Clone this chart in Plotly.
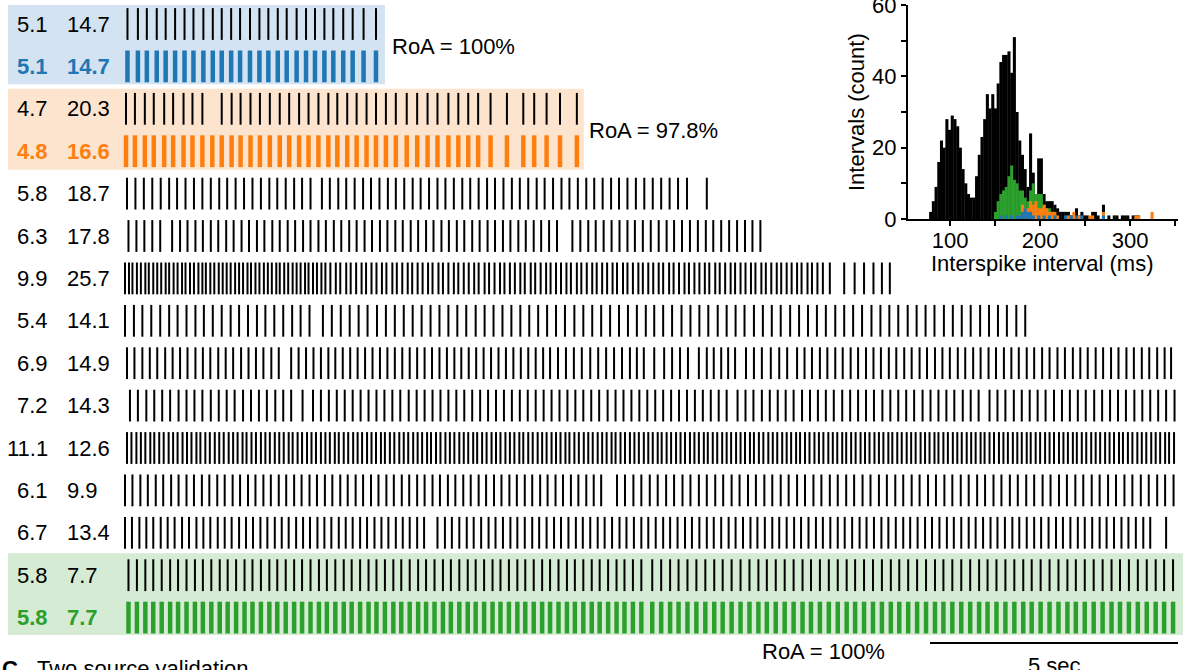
import plotly.graph_objects as go

# ---------------- data ----------------
rate_labels = ["5.1", "5.1", "4.7", "4.8", "5.8", "6.3", "9.9", "5.4", "6.9", "7.2",
               "11.1", "6.1", "6.7", "5.8", "5.8"]
cv_labels = ["14.7", "14.7", "20.3", "16.6", "18.7", "17.8", "25.7", "14.1", "14.9", "14.3",
             "12.6", "9.9", "13.4", "7.7", "7.7"]

# spike times (s)
train_01 = [0.05, 0.26, 0.44, 0.64, 0.82, 1.01, 1.20, 1.38, 1.58, 1.77, 1.95, 2.14, 2.32, 2.52,
            2.71, 2.89, 3.08, 3.26, 3.46, 3.65, 3.83, 4.02, 4.20, 4.40, 4.59, 4.81, 5.06]
train_02 = [0.05, 0.26, 0.44, 0.64, 0.82, 1.01, 1.20, 1.38, 1.58, 1.77, 1.95, 2.14, 2.32, 2.52,
            2.71, 2.89, 3.08, 3.26, 3.46, 3.65, 3.83, 4.02, 4.20, 4.40, 4.59, 4.81, 5.06]
train_03 = [0.02, 0.20, 0.40, 0.58, 0.79, 0.97, 1.18, 1.36, 1.56, 1.95, 2.15, 2.33, 2.53, 2.72,
            2.92, 3.12, 3.31, 3.51, 3.70, 3.90, 4.10, 4.28, 4.48, 4.67, 4.87, 5.06, 5.26, 5.46,
            5.68, 5.89, 6.10, 6.30, 6.52, 6.72, 6.92, 7.12, 7.37, 7.70, 8.03, 8.25, 8.50, 8.77, 9.11]
train_04 = [0.02, 0.20, 0.40, 0.58, 0.79, 0.97, 1.18, 1.36, 1.56, 1.76, 1.95, 2.15, 2.33, 2.53,
            2.72, 2.92, 3.12, 3.31, 3.51, 3.70, 3.90, 4.10, 4.28, 4.48, 4.67, 4.87, 5.06, 5.26,
            5.46, 5.68, 5.89, 6.10, 6.30, 6.52, 6.72, 6.92, 7.12, 7.37, 7.70, 8.03, 8.25, 8.50,
            8.77, 9.11]
train_05 = [0.04, 0.21, 0.38, 0.55, 0.72, 0.89, 1.05, 1.22, 1.39, 1.56, 1.73, 1.90, 2.06, 2.23,
            2.40, 2.57, 2.74, 2.91, 3.07, 3.24, 3.41, 3.57, 3.74, 3.97, 4.13, 4.30, 4.46, 4.63,
            4.80, 4.96, 5.13, 5.30, 5.46, 5.63, 5.80, 5.96, 6.13, 6.30, 6.46, 6.63, 6.80, 6.96,
            7.13, 7.30, 7.46, 7.63, 7.80, 7.96, 8.13, 8.30, 8.46, 8.63, 8.80, 8.96, 9.13, 9.30,
            9.46, 9.63, 9.80, 9.96, 10.13, 10.30, 10.47, 10.64, 10.81, 10.98, 11.15, 11.33, 11.73]
train_06 = [0.07, 0.23, 0.39, 0.55, 0.71,
            0.95, 1.11, 1.26, 1.42, 1.57, 1.73, 1.88, 2.04, 2.19, 2.35, 2.50, 2.66, 2.81, 2.97,
            3.12, 3.28, 3.43, 3.59, 3.74, 3.90, 4.05, 4.21, 4.36, 4.52, 4.67, 4.83, 4.98, 5.14,
            5.29, 5.45, 5.60, 5.76, 5.91, 6.07, 6.22, 6.38, 6.53, 6.69, 6.84, 7.00, 7.15, 7.31,
            7.46, 7.62, 7.77, 7.93, 8.08, 8.24, 8.39, 8.55, 8.71,
            9.02, 9.18, 9.34, 9.49, 9.65, 9.81, 9.97, 10.13, 10.28, 10.44, 10.60, 10.76, 10.92,
            11.07, 11.23, 11.39, 11.55, 11.71, 11.86, 12.02, 12.18, 12.34, 12.50, 12.65, 12.81]
train_07 = [0.00, 0.08, 0.15, 0.24, 0.32, 0.41, 0.48, 0.57, 0.65, 0.73, 0.82, 0.89, 0.98, 1.06,
            1.15, 1.22, 1.31, 1.39, 1.48, 1.56, 1.63, 1.72, 1.80, 1.89, 1.97, 2.05, 2.13, 2.22,
            2.30, 2.38, 2.47, 2.54, 2.63, 2.71, 2.80, 2.88, 2.96, 3.05, 3.12, 3.21, 3.29, 3.38,
            3.46, 3.54, 3.63, 3.70, 3.79, 3.87, 3.96, 4.04,
            4.14, 4.25, 4.34, 4.46, 4.55, 4.66, 4.77, 4.86, 4.97, 5.07, 5.18, 5.27, 5.39, 5.48,
            5.59, 5.70, 5.79, 5.90, 6.00, 6.11, 6.20, 6.32, 6.41, 6.52, 6.63, 6.72, 6.83, 6.93,
            7.04, 7.13, 7.25, 7.34, 7.45, 7.56, 7.65, 7.76, 7.86, 7.97, 8.06, 8.18, 8.27, 8.38,
            8.49, 8.58, 8.69, 8.79, 8.90, 8.99, 9.11, 9.20, 9.31, 9.42, 9.51, 9.62, 9.72, 9.83,
            9.92, 10.04, 10.13, 10.24, 10.35, 10.44, 10.55, 10.65, 10.76, 10.85, 10.97, 11.06,
            11.17, 11.28, 11.37, 11.48, 11.58, 11.69, 11.78, 11.90, 11.99, 12.10, 12.21, 12.30,
            12.41, 12.51, 12.62, 12.71, 12.83, 12.92, 13.03, 13.14, 13.23, 13.34, 13.44, 13.55,
            13.64, 13.76, 13.85, 13.96, 14.07, 14.21,
            14.50, 14.71, 14.90, 15.09, 15.26, 15.42]
train_08 = [0.00, 0.18, 0.35, 0.53, 0.71, 0.89, 1.06, 1.24, 1.42, 1.59, 1.77, 1.95, 2.13, 2.30,
            2.48, 2.66, 2.83, 3.01, 3.19, 3.37, 3.54, 3.72,
            3.99, 4.17, 4.35, 4.53, 4.71, 4.89, 5.08, 5.26, 5.44, 5.62, 5.80, 5.98, 6.16, 6.34,
            6.52, 6.70, 6.88, 7.07, 7.25, 7.43, 7.61, 7.79, 7.97, 8.15, 8.33, 8.51, 8.69, 8.87,
            9.06, 9.24, 9.42, 9.60, 9.78, 9.96, 10.14, 10.32, 10.50,
            10.67, 10.85, 11.03, 11.22, 11.40, 11.58, 11.76, 11.95, 12.13, 12.31, 12.49, 12.68,
            12.86, 13.04, 13.22, 13.41, 13.59, 13.77, 13.95, 14.13, 14.32, 14.50, 14.68, 14.86,
            15.05, 15.23, 15.41, 15.59, 15.78, 15.96, 16.14, 16.32, 16.51, 16.69, 16.87, 17.05,
            17.24, 17.42, 17.60, 17.78, 17.97, 18.15]
train_09 = [0.04, 0.19, 0.35, 0.50, 0.65, 0.81, 0.96, 1.11, 1.26, 1.42, 1.57, 1.72, 1.88, 2.03,
            2.18, 2.34, 2.49, 2.64, 2.79, 2.95, 3.10,
            3.35, 3.50, 3.65, 3.80, 3.95, 4.10, 4.24, 4.39, 4.54, 4.69, 4.84, 4.99, 5.14, 5.29,
            5.44, 5.59, 5.74, 5.89, 6.04, 6.19, 6.34, 6.49, 6.64, 6.78, 6.93, 7.08, 7.23, 7.38,
            7.53, 7.68, 7.83, 7.98, 8.13, 8.28, 8.43,
            8.57, 8.73, 8.89, 9.05, 9.21, 9.38, 9.54, 9.70, 9.86, 10.02, 10.18, 10.32, 10.46,
            10.67, 10.87, 11.03, 11.19, 11.35, 11.57, 11.73, 11.87, 12.02, 12.16, 12.30,
            12.52, 12.68, 12.84, 13.02, 13.19, 13.35, 13.55,
            13.70, 13.85, 14.01, 14.16, 14.32, 14.47, 14.63, 14.78, 14.94, 15.09, 15.24, 15.40,
            15.55, 15.71, 15.86, 16.02, 16.17, 16.33, 16.48, 16.63, 16.79, 16.94, 17.10, 17.25,
            17.41, 17.56, 17.72, 17.87, 18.02, 18.18, 18.33, 18.49, 18.64, 18.80, 18.95, 19.11,
            19.26, 19.41, 19.57, 19.72, 19.88, 20.03, 20.19, 20.34, 20.50, 20.65, 20.81, 20.96,
            21.09]
train_10 = [0.10, 0.26, 0.43, 0.59, 0.75, 0.91, 1.08, 1.24, 1.40, 1.56, 1.73, 1.89, 2.05, 2.21,
            2.38, 2.54, 2.70, 2.86, 3.03, 3.19, 3.35,
            3.58,
            3.79, 3.95, 4.11, 4.27, 4.43, 4.59, 4.75, 4.91, 5.07, 5.23, 5.39, 5.55, 5.72, 5.88,
            6.04, 6.20, 6.36, 6.52, 6.68, 6.84, 7.00, 7.16, 7.32, 7.48, 7.64, 7.80, 7.96, 8.12,
            8.28, 8.44, 8.60, 8.76, 8.92, 9.08, 9.24, 9.40, 9.56, 9.73, 9.89, 10.05, 10.21,
            10.37, 10.53, 10.69, 10.85, 11.01, 11.17, 11.33, 11.49, 11.65, 11.81, 11.97, 12.13,
            12.35, 12.51, 12.67, 12.84, 13.00, 13.16, 13.32, 13.48, 13.65, 13.81, 13.97, 14.13,
            14.29, 14.46, 14.62, 14.78, 14.94, 15.10, 15.27, 15.43, 15.59, 15.75, 15.91, 16.08,
            16.24, 16.40, 16.56, 16.72, 16.89, 17.05, 17.21,
            17.43, 17.59, 17.75, 17.92, 18.08, 18.24, 18.40, 18.56, 18.73, 18.89, 19.05, 19.21,
            19.37, 19.54, 19.70, 19.86, 20.02, 20.18, 20.35, 20.51, 20.67, 20.83, 20.99, 21.16]
train_11 = [0.04, 0.13, 0.23, 0.32, 0.41, 0.51, 0.59, 0.69, 0.78, 0.88,
            0.97, 1.06, 1.16, 1.25, 1.34, 1.44, 1.52, 1.62, 1.71, 1.81,
            1.90, 1.99, 2.09, 2.18, 2.27, 2.37, 2.45, 2.55, 2.64, 2.74,
            2.83, 2.92, 3.02, 3.11, 3.20, 3.30, 3.38, 3.48, 3.57, 3.67,
            3.76, 3.85, 3.95, 4.04, 4.13, 4.23, 4.31, 4.41, 4.50, 4.60,
            4.69, 4.78, 4.88, 4.97, 5.06, 5.16, 5.24, 5.34, 5.43, 5.53,
            5.62, 5.71, 5.81, 5.90, 5.99, 6.09, 6.17, 6.27, 6.36, 6.46,
            6.55, 6.64, 6.74, 6.83, 6.92, 7.02, 7.10, 7.20, 7.29, 7.39,
            7.48, 7.57, 7.67, 7.76, 7.85, 7.95, 8.03, 8.13, 8.22, 8.32,
            8.41, 8.50, 8.60, 8.69, 8.78, 8.88, 8.96, 9.06, 9.15, 9.25,
            9.34, 9.43, 9.53, 9.62, 9.71, 9.81, 9.89, 9.99, 10.08, 10.18,
            10.27, 10.36, 10.46, 10.55, 10.64, 10.74, 10.82, 10.92, 11.01, 11.11,
            11.20, 11.29, 11.39, 11.48, 11.57, 11.67, 11.75, 11.85, 11.94, 12.04,
            12.13, 12.22, 12.32, 12.41, 12.50, 12.60, 12.68, 12.78, 12.87, 12.97,
            13.06, 13.15, 13.25, 13.34, 13.43, 13.53, 13.61, 13.71, 13.80, 13.90,
            13.99, 14.08, 14.18, 14.27, 14.36, 14.46, 14.54, 14.64, 14.73, 14.83,
            14.92, 15.01, 15.11, 15.20, 15.29, 15.39, 15.47, 15.57, 15.66, 15.76,
            15.85, 15.94, 16.04, 16.13, 16.22, 16.32, 16.40, 16.50, 16.59, 16.69,
            16.78, 16.87, 16.97, 17.06, 17.15, 17.25, 17.33, 17.43, 17.52, 17.62,
            17.71, 17.80, 17.90, 17.99, 18.08, 18.18, 18.26, 18.36, 18.45, 18.55,
            18.64, 18.73, 18.83, 18.92, 19.01, 19.11, 19.19, 19.29, 19.38, 19.48,
            19.57, 19.66, 19.76, 19.85, 19.94, 20.04, 20.12, 20.22, 20.31, 20.41,
            20.50, 20.59, 20.69, 20.78, 20.87, 20.97, 21.05, 21.15]
train_12 = [0.00, 0.15, 0.31, 0.46, 0.62, 0.77, 0.93, 1.08, 1.24, 1.39, 1.55, 1.70, 1.86, 2.01,
            2.17, 2.32, 2.48, 2.63, 2.79, 2.94, 3.10, 3.25, 3.41, 3.56, 3.72, 3.87, 4.03, 4.18,
            4.34, 4.49, 4.65, 4.80, 4.96, 5.11, 5.27, 5.42, 5.58, 5.73, 5.89, 6.04, 6.20, 6.35,
            6.51, 6.66, 6.82, 6.97, 7.13, 7.28, 7.44, 7.59, 7.75, 7.90, 8.06, 8.21, 8.37, 8.52,
            8.68, 8.83, 8.99, 9.14, 9.30, 9.45, 9.60,
            9.92, 10.08, 10.25, 10.41, 10.58, 10.74, 10.91, 11.07, 11.24, 11.40, 11.57, 11.73,
            11.90, 12.06, 12.23, 12.39, 12.56, 12.72, 12.89, 13.05, 13.22, 13.38, 13.55, 13.71,
            13.88, 14.04, 14.21, 14.37, 14.54, 14.70, 14.87, 15.03, 15.20, 15.36, 15.53, 15.69,
            15.86, 16.02, 16.19, 16.35, 16.52, 16.68, 16.85, 17.01, 17.18, 17.34, 17.51, 17.67,
            17.84, 18.00, 18.17, 18.33, 18.50, 18.66, 18.83, 18.99, 19.16, 19.32, 19.49, 19.65,
            19.82, 19.98, 20.15, 20.31, 20.48, 20.64, 20.81, 20.97, 21.14]
train_13 = [0.00, 0.14, 0.29, 0.43, 0.57, 0.72, 0.86, 1.00, 1.15, 1.29, 1.44, 1.58, 1.72, 1.87,
            2.01, 2.15, 2.30, 2.44, 2.58, 2.73, 2.87, 3.02, 3.16, 3.30, 3.45, 3.59, 3.73, 3.88,
            4.02, 4.16, 4.31, 4.45, 4.59, 4.74, 4.88, 5.03, 5.17, 5.31, 5.46, 5.60, 5.74, 5.89,
            6.03,
            6.30, 6.45, 6.59, 6.74, 6.89, 7.03, 7.18, 7.33, 7.47, 7.62, 7.77, 7.91, 8.06, 8.21,
            8.35, 8.50, 8.65, 8.79, 8.94, 9.09, 9.23, 9.38, 9.53, 9.67, 9.82, 9.97, 10.11, 10.26,
            10.41, 10.55, 10.70, 10.85, 10.99, 11.14, 11.29, 11.43, 11.58, 11.73, 11.87, 12.02,
            12.17, 12.31, 12.46, 12.61, 12.75, 12.90, 13.05, 13.19, 13.34, 13.49, 13.63, 13.78,
            13.93, 14.07, 14.22, 14.37, 14.51, 14.66, 14.81, 14.95, 15.10, 15.25, 15.39, 15.54,
            15.69, 15.83, 15.98, 16.13, 16.27, 16.42, 16.57, 16.71, 16.86, 17.01, 17.15, 17.30,
            17.45, 17.59, 17.74, 17.89, 18.03, 18.18, 18.33, 18.47, 18.62, 18.77, 18.91, 19.06,
            19.21, 19.35, 19.50, 19.65, 19.79, 19.94, 20.09, 20.23, 20.38, 20.53, 20.67,
            20.99]
train_14 = [0.07, 0.24, 0.41, 0.57, 0.74, 0.91, 1.07, 1.24, 1.41, 1.57, 1.74, 1.91, 2.07, 2.24,
            2.41, 2.57, 2.74, 2.91, 3.07, 3.24, 3.41, 3.57, 3.74, 3.91, 4.07, 4.24, 4.41, 4.57,
            4.74, 4.91, 5.07, 5.24, 5.41, 5.57, 5.74, 5.91, 6.07, 6.24, 6.41, 6.57, 6.74, 6.91,
            7.07, 7.24, 7.41, 7.57, 7.74, 7.91, 8.07, 8.24, 8.41, 8.57, 8.74, 8.91, 9.07, 9.24,
            9.41, 9.57, 9.74, 9.91, 10.07, 10.24, 10.41,
            10.63, 10.81, 10.99, 11.16, 11.34, 11.52, 11.70, 11.88, 12.05, 12.23, 12.41, 12.59,
            12.77, 12.94, 13.12, 13.30, 13.48, 13.66, 13.83, 14.01, 14.19, 14.37, 14.55, 14.72,
            14.90, 15.08, 15.26, 15.44, 15.61, 15.79, 15.97, 16.15, 16.33, 16.50, 16.68, 16.86,
            17.04, 17.22, 17.39, 17.57, 17.75, 17.93, 18.11, 18.28, 18.46, 18.64, 18.82, 19.00,
            19.17, 19.35, 19.53, 19.71, 19.89, 20.06, 20.24, 20.42, 20.60, 20.78, 20.95, 21.13]
train_15 = list(train_14)

# ISI histogram (bin centres in ms, counts)
isi_all_ms = [78.5, 81.5, 84.5, 87.5, 90.5, 93.5, 96.5, 99.5, 102.5, 105.5, 108.5, 111.5, 114.5,
              117.5, 120.5, 123.5, 126.5, 129.5, 132.5, 135.5, 138.5, 141.5, 144.5, 147.5, 150.5,
              153.5, 156.5, 159.5, 162.5, 165.5, 168.5, 171.5, 174.5, 177.5, 180.5, 183.5, 186.5,
              189.5, 192.5, 195.5, 198.5, 201.5, 204.5, 207.5, 210.5, 213.5, 216.5, 219.5, 222.5,
              225.5, 228.5, 231.5, 234.5, 237.5, 240.5, 243.5, 246.5, 249.5, 252.5, 255.5, 258.5,
              261.5, 264.5, 267.5, 270.5, 273.5, 276.5, 279.5, 282.5, 285.5, 288.5, 291.5, 294.5,
              297.5, 300.5, 303.5, 306.5, 309.5]
isi_all_count = [2, 5, 9, 16, 22, 20, 28, 25, 29, 28, 26, 20, 14, 10, 7, 6, 6, 12, 18, 23, 28, 35,
                 31, 35, 31, 38, 44, 46, 46, 47, 41, 51, 30, 22, 18, 14, 9, 24, 13, 7, 17, 17, 7,
                 5, 5, 5, 4, 3, 2, 2, 2, 2, 1, 1, 3, 1, 2, 1, 1, 0, 2, 2, 1, 0, 4, 0, 1, 0, 1, 1,
                 0, 1, 1, 1, 0, 1, 1, 1]
isi_green_ms = [150.5, 153.5, 156.5, 159.5, 162.5, 165.5, 168.5, 171.5, 174.5, 177.5, 180.5,
                183.5, 186.5, 189.5, 192.5, 195.5, 198.5, 201.5, 204.5, 207.5, 210.5, 213.5, 216.5]
isi_green_count = [2, 5, 7, 8, 9, 12, 15, 11, 10, 8, 8, 6, 5, 8, 10, 7, 7, 7, 4, 3, 3, 2, 1]
isi_orange_ms = [177.5, 180.5, 183.5, 186.5, 189.5, 192.5, 195.5, 198.5, 201.5, 204.5, 207.5,
                 210.5, 213.5, 216.5, 219.5, 231.5, 237.5, 243.5, 255.5, 258.5, 270.5, 306.5,
                 309.5, 324.5]
isi_orange_count = [1, 4, 3, 3, 5, 4, 5, 3, 3, 4, 3, 2, 2, 2, 1, 1, 2, 1, 1, 1, 2, 1, 1, 2]
isi_blue_ms = [156.5, 162.5, 168.5, 174.5, 177.5, 180.5, 183.5, 186.5, 189.5, 192.5, 198.5,
               204.5, 210.5, 216.5, 228.5, 234.5, 240.5, 246.5, 270.5]
isi_blue_count = [1, 1, 1, 1, 1, 2, 3, 2, 2, 1, 1, 1, 1, 1, 1, 1, 1, 1, 1]

# ---------------- figure ----------------
BLUE, ORANGE, GREEN = "#1f77b4", "#ff7f0e", "#2ca02c"
FONT = "Liberation Sans, Arial, sans-serif"

trains = [train_01, train_02, train_03, train_04, train_05, train_06, train_07, train_08,
          train_09, train_10, train_11, train_12, train_13, train_14, train_15]
row_colors = ["black", BLUE, "black", ORANGE] + ["black"] * 10 + [GREEN]
label_colors = ["black", BLUE, "black", ORANGE] + ["black"] * 10 + [GREEN]
row_widths = [2, 4.5, 2, 4.5] + [2] * 10 + [4.5]
bold_rows = {1, 3, 14}

fig = go.Figure()
half = 0.375
for i, tr in enumerate(trains):
    xs, ys = [], []
    for t in tr:
        xs += [t, t, None]
        ys += [i - half, i + half, None]
    fig.add_trace(go.Scatter(x=xs, y=ys, mode="lines",
                             line=dict(color=row_colors[i], width=row_widths[i]),
                             hoverinfo="skip", showlegend=False, xaxis="x", yaxis="y"))

for xs_, ys_, col in [(isi_all_ms, isi_all_count, "black"),
                      (isi_green_ms, isi_green_count, GREEN),
                      (isi_orange_ms, isi_orange_count, ORANGE),
                      (isi_blue_ms, isi_blue_count, BLUE)]:
    fig.add_trace(go.Bar(x=xs_, y=ys_, width=3.4, marker=dict(color=col, line=dict(width=0)),
                         xaxis="x2", yaxis="y2", showlegend=False, hoverinfo="skip"))

annotations = []
for i in range(15):
    b = i in bold_rows
    r = f"<b>{rate_labels[i]}</b>" if b else rate_labels[i]
    c = f"<b>{cv_labels[i]}</b>" if b else cv_labels[i]
    annotations.append(dict(x=-1.51, y=i, xref="x", yref="y", text=r, showarrow=False,
                            xanchor="right", yanchor="middle",
                            font=dict(size=22, color=label_colors[i], family=FONT)))
    annotations.append(dict(x=-1.21, y=i, xref="x", yref="y", text=c, showarrow=False,
                            xanchor="left", yanchor="middle",
                            font=dict(size=22, color=label_colors[i], family=FONT)))

for txt, x, y in [("RoA = 100%", 5.34, 0.53), ("RoA = 97.8%", 9.31, 2.52),
                  ("RoA = 100%", 12.80, 14.79)]:
    annotations.append(dict(x=x, y=y, xref="x", yref="y", text=txt, showarrow=False,
                            xanchor="left", yanchor="middle",
                            font=dict(size=22, color="black", family=FONT)))

annotations.append(dict(x=18.73, y=15.12, xref="x", yref="y", text="5 sec", showarrow=False,
                        xanchor="center", yanchor="middle",
                        font=dict(size=22, color="black", family=FONT)))
annotations.append(dict(x=0.0, y=1 - 668 / 670, xref="paper", yref="paper", text="<b>C</b>",
                        showarrow=False, xanchor="left", yanchor="middle",
                        font=dict(size=22, color="black", family=FONT)))
annotations.append(dict(x=35 / 1183, y=1 - 668 / 670, xref="paper", yref="paper",
                        text="Two source validation", showarrow=False, xanchor="left",
                        yanchor="middle", font=dict(size=22, color="black", family=FONT)))
annotations.append(dict(x=857 / 1183, y=1 - 112 / 670, xref="paper", yref="paper",
                        text="Intervals (count)", textangle=-90, showarrow=False,
                        xanchor="center", yanchor="middle",
                        font=dict(size=22, color="black", family=FONT)))
annotations.append(dict(x=1042 / 1183, y=1 - 263 / 670, xref="paper", yref="paper",
                        text="Interspike interval (ms)", showarrow=False,
                        xanchor="center", yanchor="middle",
                        font=dict(size=22, color="black", family=FONT)))

shapes = [
    dict(type="rect", xref="x", yref="y", x0=-2.36, x1=5.24, y0=-0.45, y1=1.42,
         fillcolor="#d3e3f1", line=dict(width=0), layer="below"),
    dict(type="rect", xref="x", yref="y", x0=-2.36, x1=9.25, y0=1.53, y1=3.44,
         fillcolor="#fde4cf", line=dict(width=0), layer="below"),
    dict(type="rect", xref="x", yref="y", x0=-2.36, x1=21.4, y0=12.48, y1=14.41,
         fillcolor="#d5ebd3", line=dict(width=0), layer="below"),
    dict(type="line", xref="x", yref="y", x0=16.23, x1=21.23, y0=14.6, y1=14.6,
         line=dict(color="black", width=2)),
]

fig.update_layout(
    template="none",
    width=1183, height=670, margin=dict(l=0, r=0, t=0, b=0, pad=0, autoexpand=False),
    paper_bgcolor="white", plot_bgcolor="rgba(0,0,0,0)",
    font=dict(family=FONT, size=22, color="black"),
    showlegend=False, barmode="overlay",
    xaxis=dict(domain=[0, 1], range=[-2.5202, 21.3306], visible=False, fixedrange=True,
               automargin=False),
    yaxis=dict(domain=[0, 1], range=[15.236, -0.566], visible=False, fixedrange=True,
               automargin=False),
    xaxis2=dict(domain=[908 / 1183, 1178 / 1183], range=[53.3, 353.3], anchor="y2",
                automargin=False, ticklabelstandoff=-4,
                showline=True, linecolor="black", linewidth=2, ticks="outside", ticklen=5,
                tickwidth=2, tickcolor="black", showgrid=False, zeroline=False,
                tickmode="array", tickvals=[100, 150, 200, 250, 300, 350],
                ticktext=["100", "", "200", "", "300", ""],
                tickfont=dict(size=22, family=FONT, color="black")),
    yaxis2=dict(domain=[1 - 219 / 670, 1 - 5 / 670], range=[0, 60], anchor="x2",
                automargin=False, ticklabeloverflow="allow",
                showline=True, linecolor="black", linewidth=2, ticks="outside", ticklen=5,
                tickwidth=2, tickcolor="black", showgrid=False, zeroline=False,
                tickmode="array", tickvals=[0, 10, 20, 30, 40, 50, 60],
                ticktext=["0", "", "20", "", "40", "", "60"],
                tickfont=dict(size=22, family=FONT, color="black")),
    annotations=annotations, shapes=shapes,
)

fig.write_html("out.html", config={"displayModeBar": False},
               post_script="document.body.style.margin='0';document.body.style.overflow='hidden';")
